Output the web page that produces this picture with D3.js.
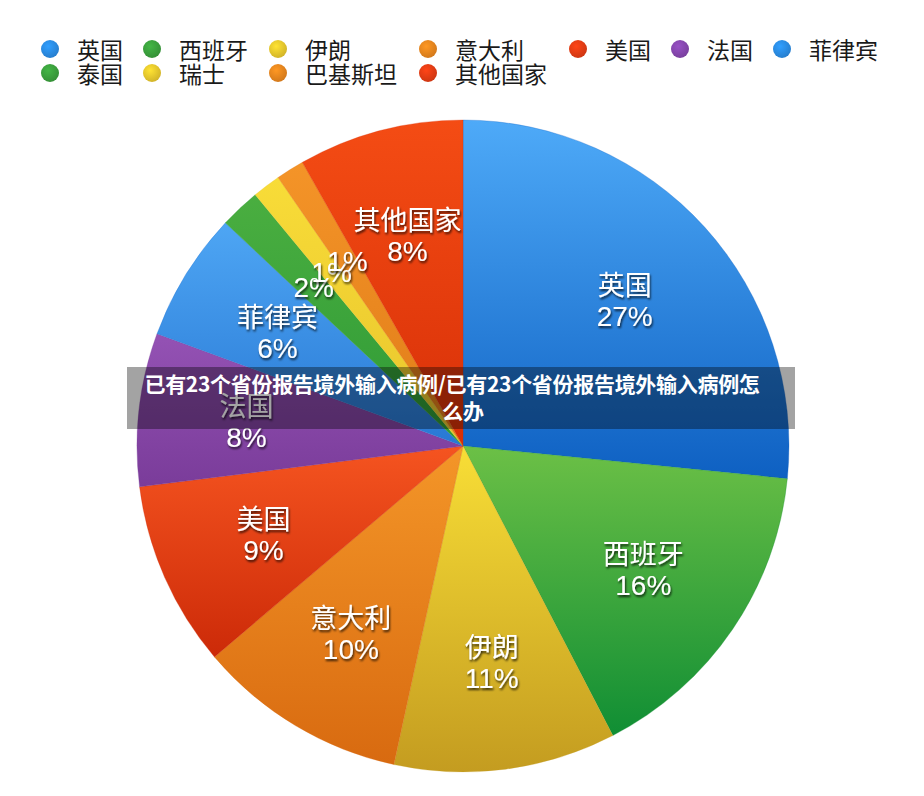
<!DOCTYPE html>
<html><head><meta charset="utf-8">
<script src="https://cdn.jsdelivr.net/npm/d3@7/dist/d3.min.js"></script>
<style>
html,body{margin:0;padding:0;background:#fff;}
svg{display:block;font-family:"Noto Sans CJK SC","Noto Sans",sans-serif;}
</style></head>
<body><svg id="c" width="924" height="796"></svg>
<script>
const categories = ["英国","西班牙","伊朗","意大利","美国","法国","菲律宾","泰国","瑞士","巴基斯坦","其他国家"];
const values = [26.6,15.8,11.0,10.4,9.2,7.6,6.4,2.0,1.4,1.4,8.2];
const topColors = ["#4eaaf8","#6cc046","#f8de36","#f49628","#f55420","#9452b4","#4ea6f4","#4aae40","#f8dc38","#f49428","#f44c14"];
const bottomColors = ["#0e60c2","#108e34","#c49c20","#d86a10","#cc2a08","#7a3c9a","#2878d4","#2e9a36","#e8c42c","#e07c18","#d83008"];
const legendColors = ["#2a8ae2","#3a9e3c","#e6c52c","#e8841e","#e23c14","#8446ac","#2a8ae2","#3a9e3c","#e6c52c","#e8841e","#e23c14"];
const bannerLines = ["已有23个省份报告境外输入病例/已有23个省份报告境外输入病例怎","么办"];

const svg = d3.select("#c");
const defs = svg.append("defs");
const cx = 463, cy = 446, R = 326, labelR = 218;

categories.forEach((c,i)=>{
  const g = defs.append("linearGradient").attr("id","g"+i)
    .attr("x1",0).attr("y1",0).attr("x2",0).attr("y2",1);
  g.append("stop").attr("offset","0%").attr("stop-color",topColors[i]);
  g.append("stop").attr("offset","100%").attr("stop-color",bottomColors[i]);
  const lg = defs.append("radialGradient").attr("id","lg"+i).attr("cx","40%").attr("cy","35%").attr("r","70%");
  lg.append("stop").attr("offset","0%").attr("stop-color",d3.color(legendColors[i]).brighter(0.4));
  lg.append("stop").attr("offset","100%").attr("stop-color",d3.color(legendColors[i]).darker(0.3));
});
const f = defs.append("filter").attr("id","sh").attr("x","-20%").attr("y","-30%").attr("width","140%").attr("height","160%");
f.append("feDropShadow").attr("dx",1).attr("dy",2).attr("stdDeviation",1.3).attr("flood-color","#000").attr("flood-opacity",0.75);

const data = categories.map((c,i)=>({name:c,value:values[i],i}));
const total = d3.sum(values);
const pie = d3.pie().value(d=>d.value).sort(null);
const arcs = pie(data);
const arc = d3.arc().innerRadius(0).outerRadius(R);
const larc = d3.arc().innerRadius(labelR).outerRadius(labelR);

const g = svg.append("g").attr("transform",`translate(${cx},${cy})`);
g.selectAll("path.s").data(arcs).join("path").attr("class","s")
  .attr("d",arc).attr("fill",d=>`url(#g${d.data.i})`)
  .attr("stroke",d=>bottomColors[d.data.i]).attr("stroke-width",0.3);

const pctFont = "'Liberation Sans',Arial,sans-serif";
const lab = g.selectAll("g.l").data(arcs).join("g").attr("class","l")
  .attr("transform",d=>`translate(${larc.centroid(d)})`)
  .attr("filter","url(#sh)");
lab.each(function(d){
  const s = d3.select(this);
  const pct = Math.round(d.data.value/total*100)+"%";
  const small = d.data.value < 3;
  if(!small){
    s.append("text").attr("y",-16.5).attr("dominant-baseline","central").attr("text-anchor","middle")
      .attr("fill","#fff").attr("font-size",27).text(d.data.name);
    s.append("text").attr("y",16.5).attr("dominant-baseline","central").attr("text-anchor","middle")
      .attr("fill","#fff").attr("font-size",28).attr("font-family",pctFont).text(pct);
  } else {
    s.append("text").attr("y",0).attr("dominant-baseline","central").attr("text-anchor","middle")
      .attr("fill","#fff").attr("font-size",28).attr("font-family",pctFont).text(pct);
  }
});

// legend: 7 columns
const nCols = 7;
const colChars = d3.range(nCols).map(c=>d3.max(categories.filter((_,i)=>i%nCols===c), s=>s.length));
const colX = []; let x = 50;
colChars.forEach((n,c)=>{ colX.push(x); x += 54 + n*24; });
const rowY = [49,73];
const leg = svg.append("g");
categories.forEach((c,i)=>{
  const col = i % nCols, row = Math.floor(i/nCols);
  leg.append("circle").attr("cx",colX[col]).attr("cy",rowY[row]).attr("r",9).attr("fill",`url(#lg${i})`);
  leg.append("text").attr("x",colX[col]+27).attr("y",rowY[row]).attr("dominant-baseline","central")
    .attr("font-size",23).attr("fill","#1a1a1a").text(c);
});

// banner overlay
svg.append("rect").attr("x",127).attr("y",367).attr("width",668).attr("height",62).attr("fill","rgba(0,0,0,0.36)");
svg.append("text").attr("x",452).attr("y",383).attr("text-anchor","middle").attr("dominant-baseline","central")
  .attr("fill","#fff").attr("font-weight","bold").attr("font-size",21).attr("letter-spacing",-0.3).text(bannerLines[0]);
svg.append("text").attr("x",463).attr("y",410).attr("text-anchor","middle").attr("dominant-baseline","central")
  .attr("fill","#fff").attr("font-weight","bold").attr("font-size",21).text(bannerLines[1]);
</script></body></html>
